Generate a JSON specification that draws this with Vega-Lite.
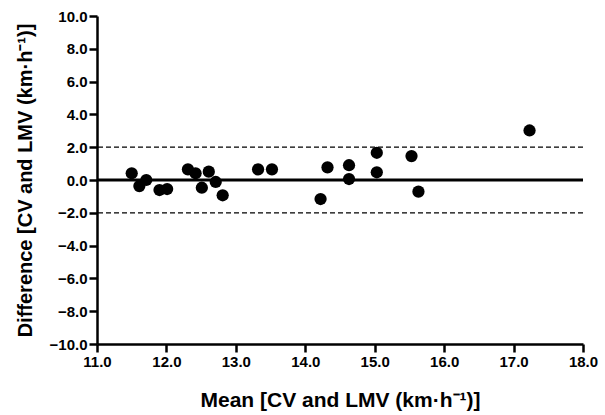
{
  "$schema": "https://vega.github.io/schema/vega-lite/v6.json",
  "autosize": "none",
  "width": 486,
  "height": 328,
  "padding": {"left": 97, "top": 16, "right": 22, "bottom": 71},
  "background": "white",
  "config": {
    "view": {"stroke": null},
    "font": "Liberation Sans"
  },
  "datasets": {
    "points": [
      {"mean": 11.50, "diff": 0.41},
      {"mean": 11.61, "diff": -0.37},
      {"mean": 11.71, "diff": 0.0},
      {"mean": 11.90, "diff": -0.61},
      {"mean": 12.01, "diff": -0.55},
      {"mean": 12.31, "diff": 0.65},
      {"mean": 12.42, "diff": 0.41},
      {"mean": 12.51, "diff": -0.47},
      {"mean": 12.61, "diff": 0.51},
      {"mean": 12.71, "diff": -0.12},
      {"mean": 12.81, "diff": -0.93},
      {"mean": 13.32, "diff": 0.65},
      {"mean": 13.52, "diff": 0.65},
      {"mean": 14.22, "diff": -1.16},
      {"mean": 14.32, "diff": 0.77},
      {"mean": 14.63, "diff": 0.90},
      {"mean": 14.63, "diff": 0.06},
      {"mean": 15.03, "diff": 1.66},
      {"mean": 15.03, "diff": 0.47},
      {"mean": 15.53, "diff": 1.46},
      {"mean": 15.63, "diff": -0.71},
      {"mean": 17.23, "diff": 3.02}
    ],
    "bias": [{"diff": 0}],
    "limits": [{"diff": 2.0}, {"diff": -2.0}]
  },
  "encoding": {
    "y": {
      "field": "diff", "type": "quantitative",
      "scale": {"domain": [-10, 10], "nice": false},
      "axis": {
        "values": [-10, -8, -6, -4, -2, 0, 2, 4, 6, 8, 10], "format": ".1f",
        "title": "Difference [CV and LMV (km·h⁻¹)]",
        "grid": false, "domainColor": "black", "domainWidth": 2.5, "tickColor": "black", "tickWidth": 2.5, "tickSize": 8,
        "labelFont": "Liberation Sans", "labelFontWeight": "bold", "labelFontSize": 15, "labelColor": "black",
        "labelOverlap": false, "labelFlush": false, "labelPadding": 2,
        "titleFont": "Liberation Sans", "titleFontWeight": "bold", "titleFontSize": 20, "titleColor": "black", "titlePadding": 14
      }
    }
  },
  "layer": [
    {
      "data": {"name": "points"},
      "mark": {"type": "point", "shape": "circle", "filled": true, "color": "black", "opacity": 1, "size": 150},
      "encoding": {
        "x": {
          "field": "mean", "type": "quantitative",
          "scale": {"domain": [11, 18], "nice": false, "zero": false},
          "axis": {
            "values": [11, 12, 13, 14, 15, 16, 17, 18], "format": ".1f",
            "title": "Mean [CV and LMV (km·h⁻¹)]",
            "grid": false, "domainColor": "black", "domainWidth": 2.5, "tickColor": "black", "tickWidth": 2.5, "tickSize": 8,
            "labelFont": "Liberation Sans", "labelFontWeight": "bold", "labelFontSize": 15, "labelColor": "black",
            "labelOverlap": false, "labelFlush": false, "labelPadding": 2,
            "titleFont": "Liberation Sans", "titleFontWeight": "bold", "titleFontSize": 21, "titleColor": "black", "titlePadding": 20
          }
        }
      }
    },
    {
      "data": {"name": "limits"},
      "mark": {"type": "rule", "color": "black", "strokeWidth": 1.3, "strokeDash": [5, 3]},
      "encoding": {}
    },
    {
      "data": {"name": "bias"},
      "mark": {"type": "rule", "color": "black", "strokeWidth": 3},
      "encoding": {}
    }
  ]
}
